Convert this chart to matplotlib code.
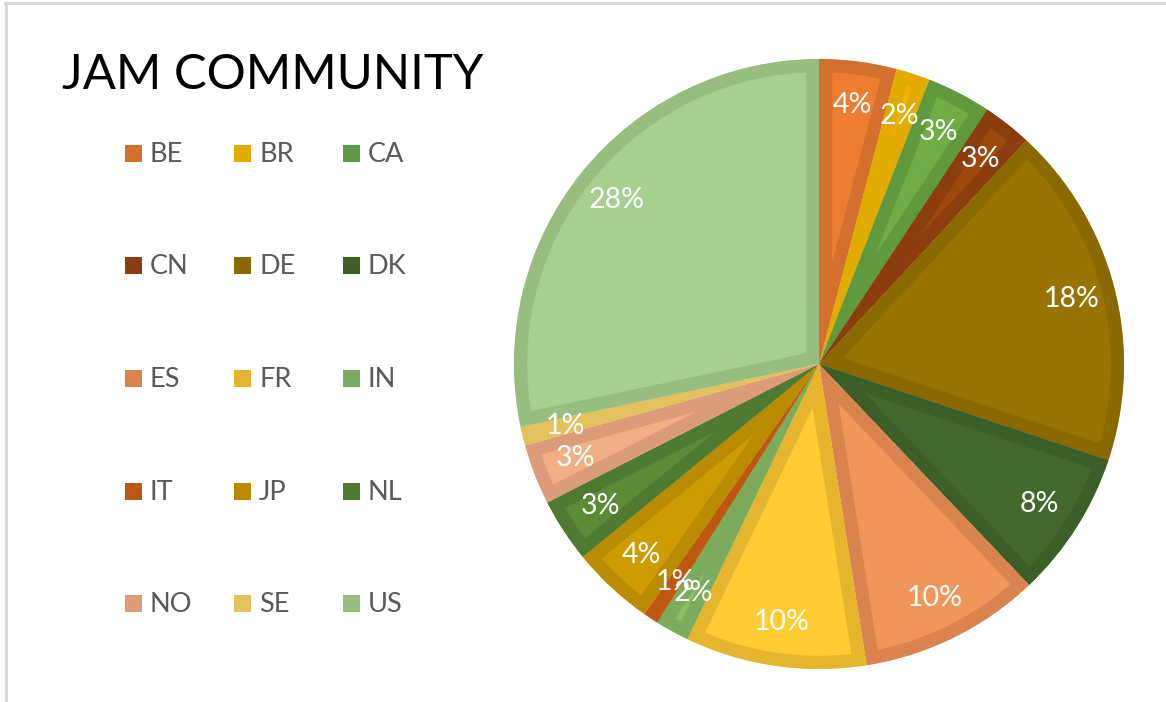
import matplotlib
matplotlib.use("Agg")
import matplotlib.pyplot as plt
from matplotlib.patches import Rectangle
from matplotlib.lines import Line2D

plt.rcParams['font.family'] = ['Lato', 'DejaVu Sans']

countries = ["BE", "BR", "CA", "CN", "DE", "DK", "ES", "FR", "IN", "IT", "JP", "NL", "NO", "SE", "US"]
shares = [4.1, 1.8, 3.4, 2.6, 18.2, 7.8, 9.6, 9.6, 1.8, 0.8, 4.4, 3.4, 3.2, 1.0, 28.3]
border_colors = ["#d4702e", "#e2ab00", "#5f9b3e", "#8b3d0f", "#8a6900", "#3c5f27",
                 "#d9834f", "#e5b52e", "#7bab5c", "#bf5612", "#b98c00", "#4e7b31",
                 "#dd9c79", "#e3c15c", "#97be7f"]
fill_colors = ["#ed7d31", "#f0b300", "#70ad47", "#9e480e", "#997300", "#43682b",
               "#f0965a", "#ffcc33", "#8bc067", "#d26012", "#cc9c00", "#5a8b37",
               "#f2af85", "#f5d060", "#a7cf8d"]
title = "JAM COMMUNITY"

W, H = 1166, 702
fig = plt.figure(figsize=(W / 100, H / 100), dpi=100)

# pie axes
cx, cy, R = 819, 364, 305
ax = fig.add_axes([(cx - R) / W, (H - cy - R) / H, 2 * R / W, 2 * R / H])
wedges, texts, autotexts = ax.pie(
    shares, colors=fill_colors, startangle=90, counterclock=False,
    radius=1, autopct='%.0f%%', pctdistance=0.855,
    textprops=dict(color='white', fontsize=20.5),
    wedgeprops=dict(linewidth=19, joinstyle='miter'))
for w, ec in zip(wedges, border_colors):
    w.set_edgecolor(ec)
    w.set_clip_on(True)
    w.set_clip_path(w)
ax.set_xlim(-1, 1)
ax.set_ylim(-1, 1)
ax.axis('off')

# title
fig.text(62 / W, 1 - 89 / H, title, fontsize=35.3, color='black', ha='left', va='baseline')

# legend, laid out row by row like the reference
col_x = [125, 234, 343]
row_y = [153.5, 266, 378.5, 491, 603]
sq = 17
for i, (name, col) in enumerate(zip(countries, border_colors)):
    r, c = divmod(i, 3)
    x0, yc = col_x[c], row_y[r]
    fig.add_artist(Rectangle(((x0) / W, 1 - (yc + sq / 2) / H), sq / W, sq / H,
                             facecolor=col, edgecolor='none', transform=fig.transFigure))
    fig.text((x0 + 25) / W, 1 - (yc + sq / 2) / H, name, fontsize=19.5,
             color='#595959', ha='left', va='baseline')

# thin frame lines
fig.add_artist(Line2D([5 / W, 1], [1 - 3 / H, 1 - 3 / H], color='#d9d9d9', lw=2.2, transform=fig.transFigure))
fig.add_artist(Line2D([6 / W, 6 / W], [0, 1 - 3 / H], color='#d9d9d9', lw=2.2, transform=fig.transFigure))

fig.savefig("out.png", dpi=100)
